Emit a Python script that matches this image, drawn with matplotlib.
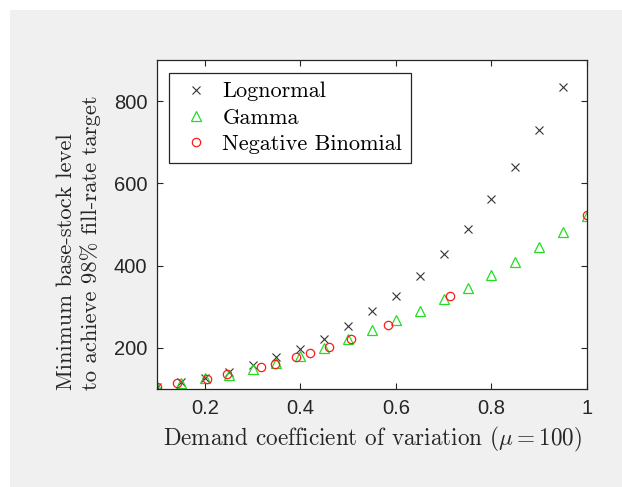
import matplotlib
matplotlib.use("Agg")
import matplotlib.pyplot as plt
from matplotlib.patches import Rectangle

plt.rcParams['mathtext.fontset'] = 'cm'
plt.rcParams['axes.unicode_minus'] = False

# ---- data ----
cv_grid = [0.10, 0.15, 0.20, 0.25, 0.30, 0.35, 0.40, 0.45, 0.50, 0.55,
           0.60, 0.65, 0.70, 0.75, 0.80, 0.85, 0.90, 0.95, 1.00]
lognormal = [106, 118, 127, 141, 158, 177, 198, 222, 253, 289,
             327, 375, 429, 490, 561, 641, 731, 835]
gamma = [105, 114, 126, 135, 149, 163, 180, 199, 221, 244,
         268, 290, 318, 346, 377, 410, 446, 481, 521]
nb_cv = [0.100, 0.142, 0.205, 0.246, 0.318, 0.348, 0.391, 0.420, 0.459,
         0.507, 0.584, 0.714, 1.000]
nb_vals = [105, 114, 124, 136, 153, 162, 178, 187, 201, 222, 255, 325, 522]

xticks = [0.2, 0.4, 0.6, 0.8, 1.0]
xticklabels = ['0.2', '0.4', '0.6', '0.8', '1']
yticks = [200, 400, 600, 800]
yticklabels = ['200', '400', '600', '800']

W, H = 622, 487
fig = plt.figure(figsize=(W / 100, H / 100), dpi=100)
fig.patch.set_facecolor('white')
fig.patches.append(Rectangle((10 / W, 0), 1 - 10 / W, 1 - 10 / H,
                             transform=fig.transFigure, facecolor='#f0f0f0',
                             edgecolor='none', zorder=-10))

L, R, T, B = 157, 587, 60, 389
ax = fig.add_axes([L / W, 1 - B / H, (R - L) / W, (B - T) / H])
ax.set_facecolor('white')

ax.plot(cv_grid[:len(lognormal)], lognormal, linestyle='none', marker='x',
        color='#333333', markersize=6, markeredgewidth=0.8, label='Lognormal')
ax.plot(cv_grid, gamma, linestyle='none', marker='^', markerfacecolor='none',
        markeredgecolor='#22dd22', markersize=6.5, markeredgewidth=0.9,
        label='Gamma')
ax.plot(nb_cv, nb_vals, linestyle='none', marker='o', markerfacecolor='none',
        markeredgecolor='#ff1a1a', markersize=6, markeredgewidth=0.9,
        label='Negative Binomial')

ax.set_xlim(0.1, 1.0)
ax.set_ylim(100, 900)
ax.set_xticks(xticks)
ax.set_xticklabels(xticklabels)
ax.set_yticks(yticks)
ax.set_yticklabels(yticklabels)
ax.tick_params(direction='in', length=4, width=0.8, colors='#262626',
               labelsize=14.5, top=True, right=True, pad=7)
for lab in ax.get_xticklabels() + ax.get_yticklabels():
    lab.set_fontfamily('Liberation Sans')
for s in ax.spines.values():
    s.set_color('#262626')
    s.set_linewidth(0.9)

ax.set_xlabel(r'Demand coefficient of variation $(\mu = 100)$',
              fontfamily='cmr10', fontsize=16.7, color='#262626', va='center')
ax.xaxis.set_label_coords(0.5, (B - 439) / (B - T))

ax.set_ylabel('Minimum base-stock level\nto achieve 98% fill-rate target',
              fontfamily='cmr10', fontsize=16.3, color='#262626',
              ha='left', va='center', multialignment='left', linespacing=1.25)
ax.yaxis.set_label_coords((79 - L) / (R - L), -0.003)

leg = ax.legend(loc='upper left',
                bbox_to_anchor=((169 - L) / (R - L), (B - 73) / (B - T)),
                borderaxespad=0, prop={'family': 'cmr10', 'size': 16},
                fancybox=False, framealpha=1, edgecolor='#262626',
                borderpad=0.4, handlelength=1.6, handletextpad=0.4,
                labelspacing=0.3, numpoints=1)
leg.get_frame().set_linewidth(0.9)

fig.savefig('out.png', dpi=100, facecolor=fig.get_facecolor())
